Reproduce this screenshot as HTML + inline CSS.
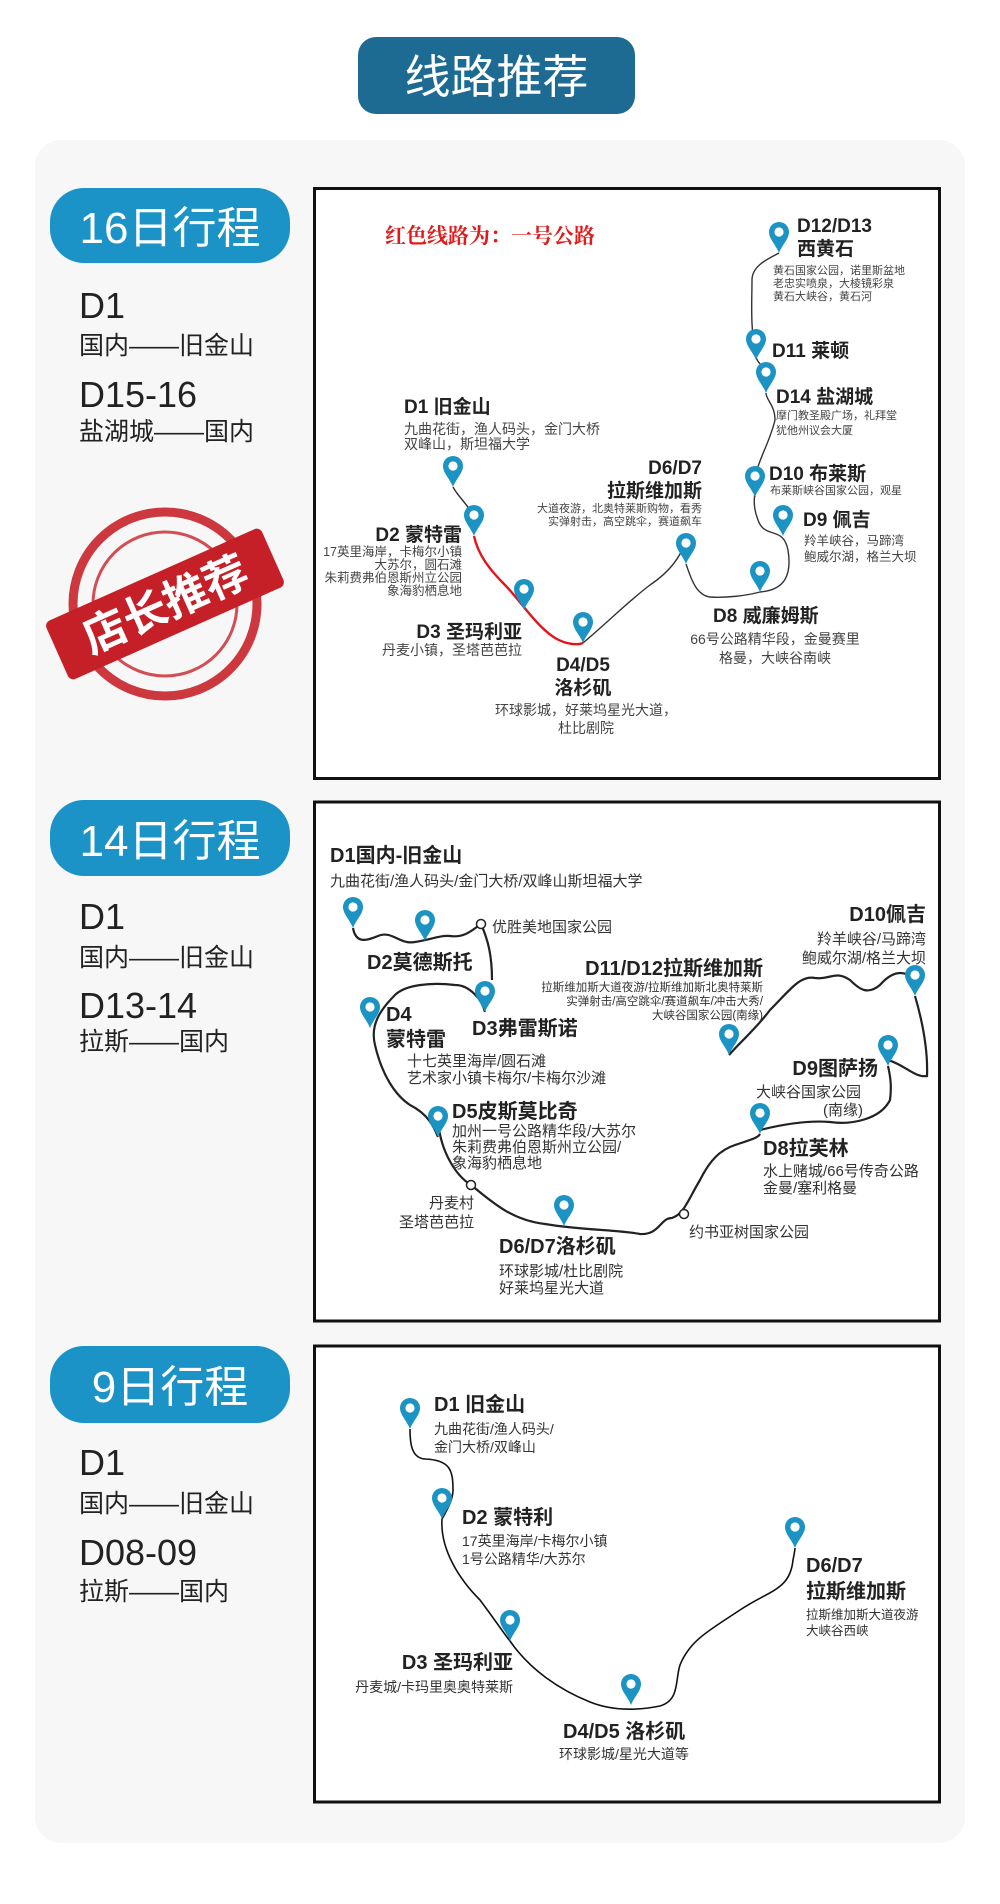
<!DOCTYPE html>
<html><head><meta charset="utf-8"><style>
html,body{margin:0;padding:0;background:#fff;}
body{width:1000px;height:1904px;position:relative;overflow:hidden;font-family:"Liberation Sans","Noto Sans CJK SC",sans-serif;}
svg{position:absolute;left:0;top:0;}
</style></head><body>
<svg width="1000" height="1904" viewBox="0 0 1000 1904" xmlns="http://www.w3.org/2000/svg" font-family="Liberation Sans, Noto Sans CJK SC, sans-serif">
<defs>
<symbol id="pin" overflow="visible">
<path d="M0,0 C-3,-8 -10,-14 -10,-21 A10,10 0 1 1 10,-21 C10,-14 3,-8 0,0Z" fill="#1b93c3"/>
<circle cx="0" cy="-21" r="4.6" fill="#fff"/>
</symbol>
</defs>
<!-- title -->
<rect x="358" y="37" width="277" height="77" rx="18" fill="#1d6a93"/>
<text x="496.5" y="93" font-size="46" fill="#fff" text-anchor="middle">线路推荐</text>
<!-- panel -->
<rect x="35" y="140" width="930" height="1703" rx="26" fill="#f7f7f7"/>

<!-- left column blocks -->
<g fill="#fff" font-size="44" text-anchor="middle">
<rect x="50" y="188" width="240" height="75" rx="34" fill="#1b93c6"/>
<text x="170" y="243" fill="#fff">16日行程</text>
<rect x="50" y="800" width="240" height="76" rx="34" fill="#1b93c6"/>
<text x="170" y="856" fill="#fff">14日行程</text>
<rect x="50" y="1346" width="240" height="77" rx="34" fill="#1b93c6"/>
<text x="170" y="1402" fill="#fff">9日行程</text>
</g>
<g fill="#222">
<text x="79" y="318" font-size="36">D1</text>
<text x="79" y="354" font-size="25">国内——旧金山</text>
<text x="79" y="407" font-size="36">D15-16</text>
<text x="79" y="440" font-size="25">盐湖城——国内</text>
<text x="79" y="929" font-size="36">D1</text>
<text x="79" y="966" font-size="25">国内——旧金山</text>
<text x="79" y="1018" font-size="36">D13-14</text>
<text x="79" y="1050" font-size="25">拉斯——国内</text>
<text x="79" y="1475" font-size="36">D1</text>
<text x="79" y="1512" font-size="25">国内——旧金山</text>
<text x="79" y="1565" font-size="36">D08-09</text>
<text x="79" y="1600" font-size="25">拉斯——国内</text>
</g>

<!-- stamp -->
<g transform="translate(165,604)">
<circle r="92" fill="none" stroke="#c8222a" stroke-width="9" opacity="0.9"/>
<circle r="72" fill="none" stroke="#c8222a" stroke-width="3" opacity="0.8"/>
<g transform="rotate(-24)">
<rect x="-118" y="-32" width="236" height="64" rx="6" fill="#c51f27"/>
<text x="0" y="16" font-size="44" font-weight="bold" fill="#fff" text-anchor="middle">店长推荐</text>
</g>
</g>

<!-- MAP 1 -->
<rect x="314.5" y="188.5" width="625" height="590" fill="#fff" stroke="#111" stroke-width="3"/>
<text x="385" y="243" font-size="21" font-weight="bold" fill="#e01b1b" font-family="Liberation Serif, Noto Serif CJK SC, serif">红色线路为：一号公路</text>
<g fill="none" stroke="#333" stroke-width="1.4">
<path d="M453,487 C460,500 470,505 474,520"/>
<path d="M583,643 C610,620 630,600 650,585 C665,575 680,560 686,540"/>
<path d="M686,564 C690,575 695,595 710,597 C725,598 745,596 760,592"/>
<path d="M760,592 C785,590 792,575 788,550 C783,525 765,540 758,520 C752,505 755,495 755,490"/>
<path d="M755,497 C750,470 768,450 775,420 C775,405 766,400 766,393"/>
<path d="M766,370 C762,365 756,362 756,355 C750,330 752,300 752,280 C752,265 770,258 779,253"/>
</g>
<path d="M474,536 C478,555 490,570 505,585 C520,600 535,625 555,638 C567,645 578,645 583,643" fill="none" stroke="#e0161c" stroke-width="2.4"/>
<g>
<use href="#pin" x="779" y="253"/><use href="#pin" x="756" y="360"/><use href="#pin" x="766" y="393"/>
<use href="#pin" x="755" y="497"/><use href="#pin" x="783" y="536"/><use href="#pin" x="760" y="592"/>
<use href="#pin" x="686" y="564"/><use href="#pin" x="583" y="643"/><use href="#pin" x="524" y="610"/>
<use href="#pin" x="474" y="536"/><use href="#pin" x="453" y="487"/>
</g>
<g fill="#222" font-weight="bold" font-size="19">
<text x="797" y="232">D12/D13</text>
<text x="797" y="255">西黄石</text>
<text x="772" y="357">D11 莱顿</text>
<text x="776" y="403">D14 盐湖城</text>
<text x="769" y="480">D10 布莱斯</text>
<text x="803" y="526">D9 佩吉</text>
<text x="713" y="622">D8 威廉姆斯</text>
<text x="702" y="474" text-anchor="end">D6/D7</text>
<text x="702" y="497" text-anchor="end">拉斯维加斯</text>
<text x="404" y="413">D1 旧金山</text>
<text x="462" y="541" text-anchor="end">D2 蒙特雷</text>
<text x="522" y="638" text-anchor="end">D3 圣玛利亚</text>
<text x="583" y="671" text-anchor="middle">D4/D5</text>
<text x="583" y="694" text-anchor="middle">洛杉矶</text>
</g>
<g fill="#444" font-size="11">
<text x="773" y="274">黄石国家公园，诺里斯盆地</text>
<text x="773" y="287">老忠实喷泉，大棱镜彩泉</text>
<text x="773" y="300">黄石大峡谷，黄石河</text>
<text x="776" y="419">摩门教圣殿广场，礼拜堂</text>
<text x="776" y="434">犹他州议会大厦</text>
<text x="770" y="494">布莱斯峡谷国家公园，观星</text>
<text x="702" y="512" text-anchor="end">大道夜游，北奥特莱斯购物，看秀</text>
<text x="702" y="525" text-anchor="end">实弹射击，高空跳伞，赛道飙车</text>
</g>
<g fill="#444" font-size="12.5">
<text x="804" y="545">羚羊峡谷，马蹄湾</text>
<text x="804" y="561">鲍威尔湖，格兰大坝</text>
<text x="462" y="556" text-anchor="end">17英里海岸，卡梅尔小镇</text>
<text x="462" y="569" text-anchor="end">大苏尔，圆石滩</text>
<text x="462" y="582" text-anchor="end">朱莉费弗伯恩斯州立公园</text>
<text x="462" y="595" text-anchor="end">象海豹栖息地</text>
</g>
<g fill="#444" font-size="14">
<text x="404" y="434">九曲花街，渔人码头，金门大桥</text>
<text x="404" y="449">双峰山，斯坦福大学</text>
<text x="522" y="655" text-anchor="end">丹麦小镇，圣塔芭芭拉</text>
<text x="775" y="644" text-anchor="middle">66号公路精华段，金曼赛里</text>
<text x="775" y="663" text-anchor="middle">格曼，大峡谷南峡</text>
<text x="586" y="715" text-anchor="middle">环球影城，好莱坞星光大道，</text>
<text x="586" y="733" text-anchor="middle">杜比剧院</text>
</g>

<!-- MAP 2 -->
<rect x="314.5" y="802" width="625" height="519" fill="#fff" stroke="#111" stroke-width="3"/>
<g fill="none" stroke="#222" stroke-width="2.2">
<path d="M353,928 C356,945 368,940 378,936 C392,930 400,945 415,942 C430,940 440,935 450,936 C465,938 472,930 481,924"/>
<path d="M481,924 C488,940 492,955 492,980"/>
<path d="M485,1012 C482,1000 470,985 455,985 C430,982 405,985 395,995 C380,1010 370,1025 375,1045 C382,1075 395,1095 410,1105 C430,1115 435,1130 438,1137"/>
<path d="M438,1120 C440,1150 455,1175 471,1185 C490,1200 510,1220 545,1224 C580,1230 620,1230 640,1234 C660,1235 660,1218 672,1218 C684,1214 688,1200 700,1180 C710,1160 720,1150 735,1145 C750,1140 758,1138 760,1134"/>
<path d="M760,1130 C780,1125 805,1120 830,1122 C850,1125 880,1120 890,1100 C892,1085 890,1075 888,1066"/>
<path d="M888,1060 C905,1065 915,1078 927,1076 C928,1050 922,1020 915,996"/>
<path d="M915,980 C905,970 893,970 880,985 C868,995 860,990 850,980 C835,970 830,980 815,978 C800,975 790,990 770,1010 C755,1030 742,1040 729,1055"/>
</g>
<circle cx="481" cy="924" r="4.5" fill="#fff" stroke="#222" stroke-width="1.5"/>
<circle cx="471" cy="1185" r="4.5" fill="#fff" stroke="#222" stroke-width="1.5"/>
<circle cx="684" cy="1214" r="4.5" fill="#fff" stroke="#222" stroke-width="1.5"/>
<g>
<use href="#pin" x="353" y="928"/><use href="#pin" x="425" y="941"/><use href="#pin" x="485" y="1012"/>
<use href="#pin" x="370" y="1028"/><use href="#pin" x="729" y="1055"/><use href="#pin" x="915" y="996"/>
<use href="#pin" x="888" y="1066"/><use href="#pin" x="760" y="1134"/><use href="#pin" x="438" y="1137"/>
<use href="#pin" x="564" y="1226"/>
</g>
<g fill="#222" font-weight="bold" font-size="20">
<text x="330" y="862">D1国内-旧金山</text>
<text x="367" y="969">D2莫德斯托</text>
<text x="472" y="1035">D3弗雷斯诺</text>
<text x="386" y="1021">D4</text>
<text x="386" y="1046">蒙特雷</text>
<text x="763" y="975" text-anchor="end">D11/D12拉斯维加斯</text>
<text x="926" y="921" text-anchor="end">D10佩吉</text>
<text x="878" y="1075" text-anchor="end">D9图萨扬</text>
<text x="763" y="1155">D8拉芙林</text>
<text x="452" y="1118">D5皮斯莫比奇</text>
<text x="499" y="1253">D6/D7洛杉矶</text>
</g>
<g fill="#333" font-size="15">
<text x="330" y="886">九曲花街/渔人码头/金门大桥/双峰山斯坦福大学</text>
<text x="492" y="932">优胜美地国家公园</text>
<text x="407" y="1066">十七英里海岸/圆石滩</text>
<text x="407" y="1083">艺术家小镇卡梅尔/卡梅尔沙滩</text>
<text x="926" y="944" text-anchor="end">羚羊峡谷/马蹄湾</text>
<text x="926" y="963" text-anchor="end">鲍威尔湖/格兰大坝</text>
<text x="756" y="1097">大峡谷国家公园</text>
<text x="843" y="1115" text-anchor="middle">(南缘)</text>
<text x="763" y="1176">水上赌城/66号传奇公路</text>
<text x="763" y="1193">金曼/塞利格曼</text>
<text x="452" y="1136">加州一号公路精华段/大苏尔</text>
<text x="452" y="1152">朱莉费弗伯恩斯州立公园/</text>
<text x="452" y="1168">象海豹栖息地</text>
<text x="474" y="1208" text-anchor="end">丹麦村</text>
<text x="474" y="1227" text-anchor="end">圣塔芭芭拉</text>
<text x="499" y="1276">环球影城/杜比剧院</text>
<text x="499" y="1293">好莱坞星光大道</text>
<text x="689" y="1237">约书亚树国家公园</text>
</g>
<g fill="#333" font-size="11.5">
<text x="763" y="991" text-anchor="end">拉斯维加斯大道夜游/拉斯维加斯北奥特莱斯</text>
<text x="763" y="1005" text-anchor="end">实弹射击/高空跳伞/赛道飙车/冲击大秀/</text>
<text x="763" y="1019" text-anchor="end">大峡谷国家公园(南缘)</text>
</g>

<!-- MAP 3 -->
<rect x="314.5" y="1346" width="625" height="456" fill="#fff" stroke="#111" stroke-width="3"/>
<path d="M410,1429 C410,1445 412,1458 425,1459 C450,1460 453,1470 453,1490 C453,1500 447,1510 442,1519 C440,1550 460,1580 480,1600 C495,1620 505,1635 510,1641 C530,1670 560,1690 590,1702 C615,1712 640,1710 660,1706 C680,1700 675,1680 680,1665 C690,1640 710,1630 740,1610 C770,1590 790,1590 793,1560 C794,1555 795,1550 795,1548" fill="none" stroke="#111" stroke-width="1.6"/>
<g>
<use href="#pin" x="410" y="1429"/><use href="#pin" x="442" y="1519"/><use href="#pin" x="510" y="1641"/>
<use href="#pin" x="631" y="1705"/><use href="#pin" x="795" y="1548"/>
</g>
<g fill="#222" font-weight="bold" font-size="20">
<text x="434" y="1411">D1 旧金山</text>
<text x="462" y="1524">D2 蒙特利</text>
<text x="513" y="1669" text-anchor="end">D3 圣玛利亚</text>
<text x="563" y="1738">D4/D5 洛杉矶</text>
<text x="806" y="1572">D6/D7</text>
<text x="806" y="1598">拉斯维加斯</text>
</g>
<g fill="#333" font-size="14">
<text x="434" y="1434">九曲花街/渔人码头/</text>
<text x="434" y="1452">金门大桥/双峰山</text>
<text x="462" y="1546">17英里海岸/卡梅尔小镇</text>
<text x="462" y="1564">1号公路精华/大苏尔</text>
<text x="513" y="1692" text-anchor="end">丹麦城/卡玛里奥奥特莱斯</text>
<text x="559" y="1759">环球影城/星光大道等</text>
</g>
<g fill="#333" font-size="12.5">
<text x="806" y="1619">拉斯维加斯大道夜游</text>
<text x="806" y="1635">大峡谷西峡</text>
</g>
</svg>
</body></html>
